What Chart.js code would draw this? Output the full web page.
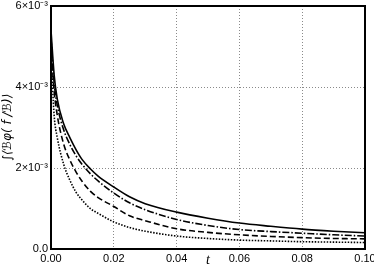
<!DOCTYPE html>
<html>
<head>
<meta charset="utf-8">
<script src="https://cdn.jsdelivr.net/npm/chart.js@4"></script>
<style>
html,body{margin:0;padding:0;background:#fff;}
#wrap{width:374px;height:269px;}
</style>
</head>
<body>
<div id="wrap"><canvas id="c" width="374" height="269"></canvas></div>
<script>
// time values
const tValues = [0, 0.001, 0.002, 0.004, 0.006, 0.008, 0.01, 0.0125, 0.015, 0.02, 0.025, 0.03, 0.04, 0.05, 0.06, 0.07, 0.08, 0.09, 0.1];
// series values in units of 1e-3
const solidSeries   = [5.4, 4.3, 3.7, 3.1, 2.75, 2.45, 2.2, 1.98, 1.8, 1.53, 1.29, 1.12, 0.91, 0.76, 0.64, 0.56, 0.49, 0.44, 0.40];
const dashDotSeries = [5.2, 4.1, 3.55, 2.95, 2.58, 2.3, 2.08, 1.86, 1.68, 1.38, 1.14, 0.97, 0.73, 0.58, 0.48, 0.43, 0.39, 0.35, 0.32];
const dashedSeries  = [5.0, 3.9, 3.3, 2.6, 2.2, 1.9, 1.66, 1.43, 1.27, 1.05, 0.82, 0.70, 0.50, 0.41, 0.35, 0.31, 0.28, 0.26, 0.25];
const dottedSeries  = [4.8, 3.3, 2.75, 2.1, 1.7, 1.4, 1.2, 1.0, 0.88, 0.67, 0.53, 0.44, 0.32, 0.26, 0.22, 0.20, 0.18, 0.17, 0.16];
const xTickValues = [0, 0.02, 0.04, 0.06, 0.08, 0.1];
const yTickValues = [0, 2, 4, 6];

function pts(arr){ return tValues.map((t,i)=>({x:t,y:arr[i]})); }

const common = {borderColor:'#000', pointRadius:0, fill:false, cubicInterpolationMode:'monotone', borderWidth:1.6};

const framePlugin = {
  id:'frame',
  afterDatasetsDraw(chart){
    const a = chart.chartArea, ctx = chart.ctx;
    ctx.save();
    ctx.strokeStyle = '#000';
    ctx.lineWidth = 2;
    ctx.strokeRect(a.left, a.top, a.right - a.left, a.bottom - a.top);
    ctx.restore();
  }
};

new Chart(document.getElementById('c'), {
  type:'line',
  data:{datasets:[
    Object.assign({data:pts(solidSeries), borderDash:[]}, common),
    Object.assign({data:pts(dashDotSeries), borderDash:[7,2,1.5,2]}, common),
    Object.assign({data:pts(dashedSeries), borderDash:[6,3]}, common),
    Object.assign({data:pts(dottedSeries), borderDash:[1.5,1.5]}, common)
  ]},
  options:{
    responsive:false,
    animation:false,
    layout:{padding:{top:6, right:9, left:0, bottom:0}},
    plugins:{legend:{display:false}, tooltip:{enabled:false}},
    scales:{
      x:{
        type:'linear', min:0, max:0.1,
        afterBuildTicks(s){ s.ticks = xTickValues.map(v=>({value:v})); },
        afterFit(s){ s.height = 20; s.paddingRight = 0; s.paddingLeft = 0; },
        ticks:{font:{family:'Liberation Sans', size:11}, color:'#000', padding:3, maxRotation:0,
          callback:v=>Number(v).toFixed(2)},
        grid:{color:(c)=> (c.tick && (c.tick.value===0 || Math.abs(c.tick.value-0.1)<1e-9)) ? 'rgba(0,0,0,0)' : '#8a8a8a',
              drawTicks:false, lineWidth:1},
        border:{display:false, dash:[1,2]},
        title:{display:true, text:'t', color:'#000', font:{family:'Liberation Serif', style:'italic', size:14}, padding:{top:0,bottom:0}}
      },
      y:{
        type:'linear', min:0, max:6,
        afterBuildTicks(s){ s.ticks = yTickValues.map(v=>({value:v})); },
        afterFit(s){ s.width = 51; s.paddingTop = 0; s.paddingBottom = 0; },
        ticks:{font:{family:'Liberation Sans', size:11}, color:'#000', padding:3,
          callback:v=> v===0 ? '0.0' : v+'×10⁻³'},
        grid:{color:(c)=> (c.tick && (c.tick.value===0 || c.tick.value===6)) ? 'rgba(0,0,0,0)' : '#8a8a8a',
              drawTicks:false, lineWidth:1},
        border:{display:false, dash:[1,2]},
        title:{display:true, text:'∫⟨ℬφ( f /ℬ)⟩', color:'#000', font:{family:'DejaVu Sans', style:'italic', size:12}, padding:{top:1,bottom:0}}
      }
    }
  },
  plugins:[framePlugin]
});
</script>
</body>
</html>
